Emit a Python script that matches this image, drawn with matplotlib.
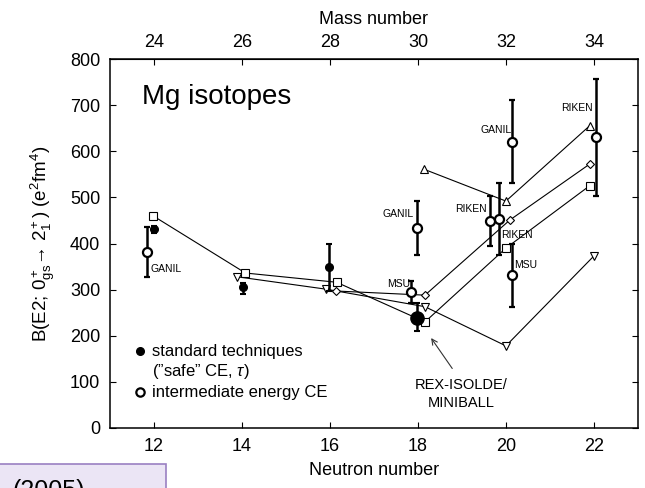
import matplotlib
matplotlib.use("Agg")
import matplotlib.pyplot as plt
from matplotlib.patches import Rectangle

plt.rcParams['font.family'] = ['Liberation Sans', 'DejaVu Sans']
plt.rcParams['mathtext.fontset'] = 'custom'
plt.rcParams['mathtext.rm'] = 'Liberation Sans'
plt.rcParams['mathtext.it'] = 'Liberation Sans:italic'

# intermediate energy Coulomb excitation (open circles)
ce_n = [11.85, 17.99, 17.84, 19.64, 19.85, 20.14, 20.14, 22.04]
ce_b = [382, 434, 294, 449, 453, 621, 332, 630]
ce_lo = [328, 375, 271, 395, 375, 532, 263, 504]
ce_hi = [435, 492, 319, 502, 532, 712, 400, 756]

# standard techniques (filled circles)
std_n = [12.0, 14.02, 15.98]
std_b = [431, 305, 350]
std_lo = [423, 291, 298]
std_hi = [438, 314, 399]

# REX-ISOLDE / MINIBALL point
rex_n = [17.99]
rex_b = [239]
rex_lo = [210]
rex_hi = [271]

# theory curves
sq_n = [11.98, 14.08, 16.15, 18.16, 20.0, 21.9]
sq_b = [460, 336, 316, 230, 390, 525]
dt_n = [13.88, 15.91, 18.16, 20.0, 22.0]
dt_b = [328, 301, 263, 178, 373]
dm_n = [16.14, 18.16, 20.09, 21.9]
dm_b = [297, 288, 451, 572]
ut_n = [18.14, 20.0, 21.9]
ut_b = [561, 492, 655]

# lab labels next to points
lab_text = ['GANIL', 'GANIL', 'MSU', 'RIKEN', 'GANIL', 'RIKEN', 'MSU', 'RIKEN']
lab_n = [11.91, 17.9, 17.82, 19.56, 20.12, 19.9, 20.19, 21.97]
lab_b = [344, 463, 312, 474, 646, 418, 354, 693]
lab_ha = ['left', 'right', 'right', 'right', 'right', 'left', 'left', 'right']

fig = plt.figure(figsize=(6.45, 4.88), dpi=100)
ax = fig.add_axes([0.1705, 0.123, 0.8185, 0.756])

thin = dict(color='black', lw=0.8, mfc='white', mec='black', mew=0.8)
ax.plot(sq_n, sq_b, marker='s', ms=5.5, **thin)
ax.plot(dt_n, dt_b, marker='v', ms=5.5, **thin)
ax.plot(dm_n, dm_b, marker='D', ms=4.0, **thin)
ax.plot(ut_n, ut_b, marker='^', ms=5.5, **thin)

def bars(b, lo, hi):
    return [[v - l for v, l in zip(b, lo)], [h - v for v, h in zip(b, hi)]]

ax.errorbar(std_n, std_b, yerr=bars(std_b, std_lo, std_hi), fmt='o',
            ms=5.5, color='black', mfc='black', elinewidth=1.8, capsize=2.5,
            capthick=1.5, zorder=4)
ax.errorbar(rex_n, rex_b, yerr=bars(rex_b, rex_lo, rex_hi), fmt='o',
            ms=9.5, color='black', mfc='black', elinewidth=1.8, capsize=2.5,
            capthick=1.5, zorder=4)
ax.errorbar(ce_n, ce_b, yerr=bars(ce_b, ce_lo, ce_hi), fmt='o',
            ms=6.5, color='black', mfc='white', mew=1.6, elinewidth=1.8,
            capsize=2.5, capthick=1.5, zorder=5)

for t, x, y, ha in zip(lab_text, lab_n, lab_b, lab_ha):
    ax.text(x, y, t, fontsize=7.5, ha=ha, va='center')

ax.text(11.72, 718, 'Mg isotopes', fontsize=20, ha='left', va='center')

# legend drawn by hand
ax.plot([11.68], [168], 'o', ms=5.5, color='black')
ax.text(11.95, 165, 'standard techniques', fontsize=12, va='center')
ax.text(11.95, 123, '(\u201dsafe\u201d CE, $\\tau$)', fontsize=12, va='center')
ax.plot([11.68], [77], 'o', ms=6, mfc='white', mec='black', mew=1.6)
ax.text(11.95, 76, 'intermediate energy CE', fontsize=12, va='center')

ax.text(18.99, 74, 'REX-ISOLDE/\nMINIBALL', fontsize=10.5, ha='center',
        va='center', linespacing=1.3)
ax.annotate('', xy=(18.3, 195), xytext=(18.78, 129),
            arrowprops=dict(arrowstyle='->', color='#333333', lw=0.8,
                            shrinkA=0, shrinkB=0))

ax.set_xlim(11, 23)
ax.set_ylim(0, 800)
ax.set_xticks([12, 14, 16, 18, 20, 22])
ax.set_yticks(range(0, 801, 100))
ax.tick_params(direction='in', length=4, width=0.8, labelsize=13,
               top=False, right=True, pad=7)
for s in ax.spines.values():
    s.set_linewidth(1.1)
ax.set_xlabel('Neutron number', fontsize=13, labelpad=5)
ax.set_ylabel('B(E2; 0$^+_{\\rm gs}$\u2192 2$^+_1$) (e$^2$fm$^4$)',
              fontsize=13.5, labelpad=9)

top = ax.secondary_xaxis('top', functions=(lambda n: n + 12, lambda a: a - 12))
top.set_xticks([24, 26, 28, 30, 32, 34])
top.tick_params(direction='in', length=4, width=0.8, labelsize=13, pad=6)
top.set_xlabel('Mass number', fontsize=13, labelpad=7)

# reference box, running off the bottom edge
fig.patches.append(Rectangle((-0.01, -0.05), 0.268, 0.099,
                             transform=fig.transFigure, facecolor='#ebe5f5',
                             edgecolor='#9a80c2', lw=1.2))
fig.text(0.02, 1 - 479 / 488, '(2005)', fontsize=18, va='top', ha='left')

fig.savefig('out.png', dpi=100)
